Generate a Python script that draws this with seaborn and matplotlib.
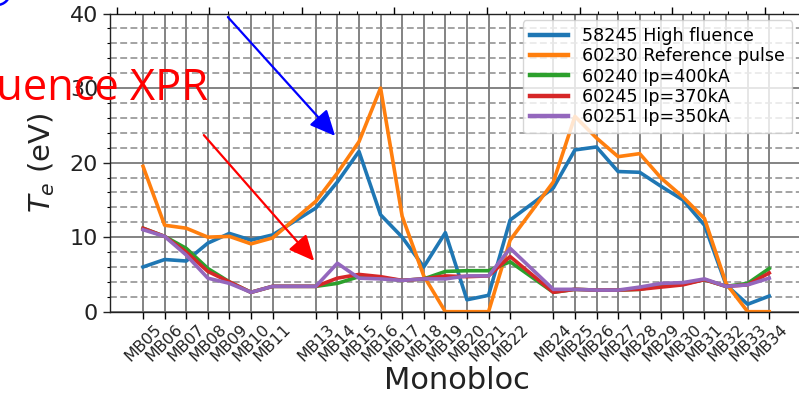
import matplotlib
matplotlib.use("Agg")
import matplotlib.pyplot as plt
from matplotlib.ticker import MultipleLocator, FixedLocator
from matplotlib.patches import FancyArrowPatch, Ellipse
import numpy as np
import pandas as pd
import seaborn as sns

# Monobloc index along the divertor and the tick labels shown for them
monobloc = [5, 6, 7, 8, 9, 10, 11, 13, 14, 15, 16, 17, 18, 19, 20, 21, 22,
            24, 25, 26, 27, 28, 29, 30, 31, 32, 33, 34]
tick_labels = ["MB05", "MB06", "MB07", "MB08", "MB09", "MB10", "MB11",
               "MB13", "MB14", "MB15", "MB16", "MB17", "MB18", "MB19",
               "MB20", "MB21", "MB22", "MB24", "MB25", "MB26", "MB27",
               "MB28", "MB29", "MB30", "MB31", "MB32", "MB33", "MB34"]

series_names = ["58245 High fluence", "60230 Reference pulse",
                "60240 Ip=400kA", "60245 Ip=370kA", "60251 Ip=350kA"]

# Electron temperature (eV) per monobloc, one list per pulse
te_58245 = [6.0, 7.0, 6.8, 9.2, 10.5, 9.6, 10.3, 13.9, 17.4, 21.5, 13.0, 10.0,
            6.0, 10.6, 1.6, 2.2, 12.3, 16.6, 21.7, 22.1, 18.8, 18.7, 16.8,
            15.0, 11.6, 3.6, 1.0, 2.1]
te_60230 = [19.5, 11.6, 11.2, 10.0, 10.1, 9.1, 9.9, 14.8, 18.6, 22.8, 30.0,
            12.8, 4.8, 0.0, 0.0, 0.0, 9.6, 17.4, 26.2, 23.3, 20.8, 21.2, 17.9,
            15.4, 12.5, 3.8, 0.0, 0.0]
te_60240 = [11.2, 10.1, 8.5, 5.8, 4.0, 2.6, 3.4, 3.4, 3.8, 4.7, 4.5, 4.2, 4.4,
            5.4, 5.5, 5.5, 6.7, 2.6, 3.0, 2.9, 2.9, 3.0, 3.5, 3.7, 4.3, 3.4,
            3.8, 5.8]
te_60245 = [11.2, 10.1, 8.0, 5.4, 4.0, 2.6, 3.4, 3.4, 4.5, 5.0, 4.7, 4.2, 4.4,
            4.8, 4.7, 4.8, 7.4, 2.6, 3.0, 2.9, 2.9, 3.0, 3.3, 3.6, 4.3, 3.4,
            3.6, 5.2]
te_60251 = [11.0, 10.1, 7.6, 4.5, 3.8, 2.6, 3.4, 3.4, 6.5, 4.5, 4.4, 4.2, 4.4,
            4.4, 4.8, 4.8, 8.5, 3.0, 3.0, 2.9, 2.9, 3.3, 3.8, 3.9, 4.4, 3.4,
            3.6, 4.5]

colors = ["#1f77b4", "#ff7f0e", "#2ca02c", "#d62728", "#9467bd"]

frames = []
for name, vals in zip(series_names,
                      [te_58245, te_60230, te_60240, te_60245, te_60251]):
    frames.append(pd.DataFrame({"mb": monobloc, "te": vals, "pulse": name}))
df = pd.concat(frames, ignore_index=True)

W, H = 799, 394
fig = plt.figure(figsize=(W / 100, H / 100), dpi=100)

# axes box in pixels: left 110, right 804 (runs past the edge), y 13.5..311.7
ax_left, ax_right, ax_top, ax_bottom = 110, 803.8, 13.5, 311.7
ax = fig.add_axes([ax_left / W, (H - ax_bottom) / H,
                   (ax_right - ax_left) / W, (ax_bottom - ax_top) / H])

sns.lineplot(data=df, x="mb", y="te", hue="pulse", hue_order=series_names,
             palette=colors, linewidth=2.6, sort=False, estimator=None, ax=ax)

ax.set_xlim(3.47, 35.6)
ax.set_ylim(0, 40)
ax.xaxis.set_major_locator(FixedLocator(monobloc))
ax.set_xticklabels(tick_labels, rotation=45, fontsize=11.5, color="#222222")
ax.yaxis.set_major_locator(MultipleLocator(10))
ax.yaxis.set_minor_locator(MultipleLocator(2))
ax.tick_params(axis="y", which="major", labelsize=16, length=5, width=1,
               colors="#222222")
ax.tick_params(axis="y", which="minor", length=2.5, width=0.8)
ax.tick_params(axis="x", which="major", length=5, width=1, pad=2)

ax.grid(True, which="major", axis="both", color="#7a7a7a", linewidth=1.3,
        linestyle="-")
ax.grid(True, which="minor", axis="y", color="#8a8a8a", linewidth=1.1,
        linestyle=(0, (4.5, 2.2)))
ax.set_axisbelow(True)
for s in ax.spines.values():
    s.set_color("#222222")
    s.set_linewidth(1.0)

ax.set_xlabel("Monobloc", fontsize=22, color="#222222", labelpad=1)
ax.set_ylabel("$T_e$ (eV)", fontsize=21, color="#222222")
ax.yaxis.set_label_coords((57 - ax_left) / (ax_right - ax_left), 0.5)

leg = ax.legend(loc="upper right",
                bbox_to_anchor=((792 - ax_left) / (ax_right - ax_left),
                                (ax_bottom - 20) / (ax_bottom - ax_top)),
                borderaxespad=0, fontsize=12.6, labelspacing=0.13,
                handlelength=2.2, handletextpad=0.8, borderpad=0.4,
                framealpha=0.8, edgecolor="#cccccc")
for line in leg.get_lines():
    line.set_linewidth(3.2)

# secondary scale along the top edge: ticks only
ax_top_scale = ax.twiny()
ax_top_scale.set_xlim(-0.36, 37.10)
ax_top_scale.xaxis.set_major_locator(MultipleLocator(5))
ax_top_scale.xaxis.set_minor_locator(MultipleLocator(1))
ax_top_scale.tick_params(axis="x", which="major", length=5, width=1,
                         labeltop=False)
ax_top_scale.tick_params(axis="x", which="minor", length=2.5, width=0.8)
ax_top_scale.set_xticklabels([])
for s in ax_top_scale.spines.values():
    s.set_visible(False)

# slide annotations
px = lambda x, y: (x / W, (H - y) / H)
fig.text(*px(208, 100), "High fluence XPR", color="#ff0000", fontsize=31.3,
         family="Open Sans", ha="right", va="baseline")
for (x0, y0), (x1, y1), c in [((226, 15), (337, 138), "#0000ff"),
                              ((202, 133), (316, 263), "#ff0000")]:
    fig.add_artist(FancyArrowPatch(px(x0, y0), px(x1, y1),
                                   transform=fig.transFigure,
                                   arrowstyle="-|>,head_length=1.3,head_width=0.6",
                                   mutation_scale=12, color=c, linewidth=1.6))
fig.add_artist(Ellipse(px(-3, -8), 2 * 13 / W, 2 * 13 / H,
                       transform=fig.transFigure, fill=False,
                       edgecolor="#0000ff", linewidth=1.8))

fig.savefig("out.png", dpi=100)
